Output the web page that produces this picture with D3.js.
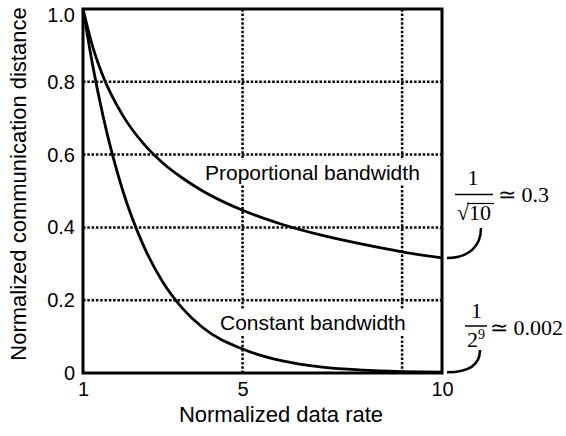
<!DOCTYPE html>
<html>
  <head>
    <title>Normalized communication distance</title>
    <script src="https://d3js.org/d3.v7.min.js"></script>
    <style>
      body { margin: 0; background: #fff; }
    </style>
  </head>
  <body>
    <div id="chart"></div>
    <script>
      // values
      var rates = [1, 1.25, 1.5, 2, 2.5, 3, 3.5, 4, 5, 6, 7, 8, 9, 10];
      var proportional = [1, 0.894, 0.816, 0.707, 0.632, 0.577, 0.535, 0.5, 0.447, 0.408, 0.378, 0.354, 0.333, 0.316];
      var constant = [1, 0.841, 0.707, 0.5, 0.354, 0.25, 0.177, 0.125, 0.066, 0.033, 0.016, 0.008, 0.004, 0.002];
      var xTicks = [1, 5, 10];
      var yTicks = [0, 0.2, 0.4, 0.6, 0.8, 1];
      var xGrid = [5, 9];
      var yGrid = [0.2, 0.4, 0.6, 0.8];

      var sans = "'Liberation Sans', Arial, sans-serif";
      var serif = "'Liberation Serif', 'Times New Roman', serif";

      var svg = d3.select("#chart").append("svg")
        .attr("width", 566)
        .attr("height", 436);

      var x = d3.scaleLinear().domain([1, 10]).range([83, 442]);
      var y = d3.scaleLinear().domain([0, 1]).range([373, 9]);

      // dotted grid
      svg.append("g").selectAll("line")
        .data(yGrid)
        .enter()
        .append("line")
        .attr("x1", x(1)).attr("x2", x(10))
        .attr("y1", d => y(d)).attr("y2", d => y(d))
        .attr("stroke", "#000")
        .attr("stroke-width", 2.5)
        .attr("stroke-dasharray", "2.5,1.8");

      svg.append("g").selectAll("line")
        .data(xGrid)
        .enter()
        .append("line")
        .attr("x1", d => x(d)).attr("x2", d => x(d))
        .attr("y1", y(0)).attr("y2", y(1))
        .attr("stroke", "#000")
        .attr("stroke-width", 2.5)
        .attr("stroke-dasharray", "2.5,1.8");

      // curve labels sit on white boxes that hide the grid
      var labels = [
        { text: "Proportional bandwidth", x: 205, y: 180 },
        { text: "Constant bandwidth", x: 220, y: 330 }
      ];
      var lab = svg.append("g").selectAll("g")
        .data(labels)
        .enter()
        .append("g");
      lab.append("rect").attr("fill", "#fff");
      lab.append("text")
        .attr("x", d => d.x)
        .attr("y", d => d.y)
        .style("font-family", sans)
        .style("font-size", "21px")
        .text(d => d.text);
      lab.each(function () {
        var g = d3.select(this);
        var b = g.select("text").node().getBBox();
        g.select("rect")
          .attr("x", b.x - 3).attr("y", b.y - 1)
          .attr("width", b.width + 6).attr("height", b.height + 2);
      });

      // curves
      var line = d3.line()
        .x((d, i) => x(rates[i]))
        .y(d => y(d))
        .curve(d3.curveMonotoneX);

      [proportional, constant].forEach(function (s) {
        svg.append("path")
          .attr("d", line(s))
          .attr("fill", "none")
          .attr("stroke", "#000")
          .attr("stroke-width", 2.8);
      });

      // axes
      var xAxis = d3.axisBottom(x).tickValues(xTicks).tickSize(0).tickPadding(9).tickFormat(d3.format("d"));
      var yAxis = d3.axisLeft(y).tickValues(yTicks).tickSize(0).tickPadding(8)
        .tickFormat(d => d === 0 ? "0" : d3.format(".1f")(d));

      var gx = svg.append("g").attr("transform", "translate(0," + y(0) + ")").call(xAxis);
      var gy = svg.append("g").attr("transform", "translate(" + x(1) + ",0)").call(yAxis);
      [gx, gy].forEach(function (g) {
        g.select(".domain").remove();
        g.selectAll("text")
          .attr("fill", "#000")
          .style("font-family", sans)
          .style("font-size", "20px");
      });
      // top label is pushed down a little so it stays inside the page
      gy.selectAll(".tick").filter(d => d === 1).select("text").attr("dy", "0.6em");

      // frame
      svg.append("rect")
        .attr("x", x(1)).attr("y", y(1))
        .attr("width", x(10) - x(1))
        .attr("height", y(0) - y(1))
        .attr("fill", "none")
        .attr("stroke", "#000")
        .attr("stroke-width", 3);

      // axis titles
      svg.append("text")
        .attr("x", 281)
        .attr("y", 422)
        .attr("text-anchor", "middle")
        .style("font-family", sans)
        .style("font-size", "22px")
        .text("Normalized data rate");

      svg.append("text")
        .attr("transform", "translate(26,184) rotate(-90)")
        .attr("text-anchor", "middle")
        .style("font-family", sans)
        .style("font-size", "22px")
        .text("Normalized communication distance");

      // end value notes
      var m1 = svg.append("g").style("font-family", serif).style("font-size", "22px");
      m1.append("text").attr("x", 473).attr("y", 185).attr("text-anchor", "middle").text("1");
      m1.append("line").attr("x1", 455).attr("x2", 493).attr("y1", 194.5).attr("y2", 194.5)
        .attr("stroke", "#000").attr("stroke-width", 1.5);
      m1.append("text").attr("x", 474).attr("y", 220).attr("text-anchor", "middle").text("\u221A10");
      m1.append("line").attr("x1", 467).attr("x2", 494).attr("y1", 203.5).attr("y2", 203.5)
        .attr("stroke", "#000").attr("stroke-width", 1.2);
      m1.append("text").attr("x", 498).attr("y", 202).text("\u2243 0.3");

      var m2 = svg.append("g").style("font-family", serif).style("font-size", "22px");
      m2.append("text").attr("x", 476.5).attr("y", 318).attr("text-anchor", "middle").text("1");
      m2.append("line").attr("x1", 465).attr("x2", 487).attr("y1", 326).attr("y2", 326)
        .attr("stroke", "#000").attr("stroke-width", 1.5);
      var den = m2.append("text").attr("x", 467).attr("y", 347);
      den.append("tspan").text("2");
      den.append("tspan").attr("dy", -8).style("font-size", "14px").text("9");
      m2.append("text").attr("x", 490).attr("y", 335).text("\u2243 0.002");

      // little hooks from the curve ends to the notes
      svg.append("path")
        .attr("d", "M447," + y(0.316) + " C470," + y(0.316) + " 481,245 481,228")
        .attr("fill", "none").attr("stroke", "#000").attr("stroke-width", 2.5);
      svg.append("path")
        .attr("d", "M447," + y(0.002) + " C468," + y(0.002) + " 480,365 480,350")
        .attr("fill", "none").attr("stroke", "#000").attr("stroke-width", 2.5);
    </script>
  </body>
</html>
